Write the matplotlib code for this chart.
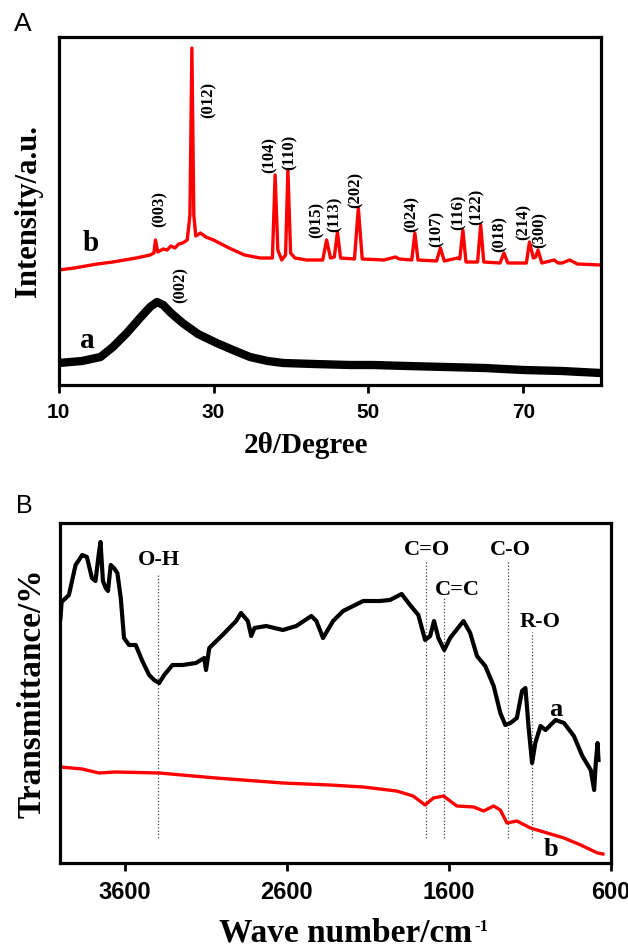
import matplotlib
matplotlib.use("Agg")
import matplotlib.pyplot as plt

# --------------------------
# Panel A: XRD data (2theta in degrees, intensity in a.u.)
# --------------------------
xrd_b_theta = [10, 12, 15, 17, 20, 21.8, 22.3, 22.5, 22.8, 23.5, 24, 24.5, 25, 25.5,
               26.0, 26.6, 26.95, 27.2, 27.45, 27.7, 28.3, 29, 30, 32, 34, 36,
               37.6, 37.95, 38.3, 38.8, 39.3, 39.6, 39.95, 40.5, 42, 44.1, 44.6,
               45.1, 45.6, 46.0, 46.4, 48.2, 48.7, 49.2, 52, 53.5, 54, 55.6, 56.0,
               56.4, 58.8, 59.3, 59.8, 61.5, 61.8, 62.2, 62.6, 64.1, 64.5, 64.9,
               67.0, 67.5, 68.0, 70.4, 70.8, 71.3, 71.6, 71.9, 72.4, 74, 74.5, 75,
               76, 77, 80]
xrd_b_int = [115, 117, 121, 123, 127, 130, 132, 145, 133, 136, 135, 139, 137, 141,
             142, 145, 170, 337, 170, 149, 152, 148, 145, 137, 130, 127,
             127, 210, 135, 125, 130, 215, 132, 127, 125, 125, 145,
             127, 128, 153, 127, 126, 177, 126, 125, 128, 126, 125, 152,
             125, 124, 137, 124, 127, 126, 155, 123, 123, 160, 123,
             122, 132, 122, 122, 143, 127, 128, 135, 122, 125, 122, 122,
             125, 121, 120]

xrd_a_theta = [10, 13, 15.4, 17, 18.8, 20.5, 21.8, 22.7, 23.5, 24.5, 26, 28, 30.4,
               32.5, 34.7, 37, 39, 43, 47.6, 50.6, 55, 60, 65, 70, 75, 80]
xrd_a_int = [22, 24, 28, 38, 52, 67, 78, 83, 80, 72, 62, 51, 42,
             35, 28, 24, 22, 21, 20, 20, 19, 18, 17, 15, 14, 12]

hkl_labels = ['(003)', '(012)', '(104)', '(110)', '(015)', '(113)', '(202)',
              '(024)', '(107)', '(116)', '(122)', '(018)', '(214)', '(300)']
hkl_theta = [23.1, 29.4, 37.3, 39.8, 43.3, 45.7, 48.3, 55.6, 58.8, 61.7, 64.0,
             66.9, 70.0, 72.1]
hkl_int = [158, 267, 212, 215, 147, 153, 177, 153, 138, 155, 160, 133, 145, 137]

# --------------------------
# Panel B: FTIR data (wave number in cm-1, transmittance in %)
# --------------------------
ftir_a_wn = [3997, 3990, 3945, 3904, 3863, 3834, 3803, 3781, 3760, 3750, 3735,
             3718, 3704, 3687, 3667, 3646, 3625, 3605, 3574, 3533, 3492, 3450,
             3419, 3388, 3357, 3306, 3244, 3161, 3110, 3099, 3079, 2997, 2913,
             2883, 2841, 2820, 2800, 2728, 2625, 2542, 2449, 2418, 2377, 2315,
             2253, 2129, 2026, 1964, 1892, 1840, 1789, 1747, 1716, 1692, 1665,
             1629, 1593, 1510, 1469, 1427, 1376, 1324, 1283, 1252, 1221, 1181,
             1149, 1128, 1108, 1087, 1067, 1035, 1004, 942, 890, 829, 777, 725,
             704, 694, 683, 677]
ftir_a_t = [245, 261, 268, 298, 308, 306, 285, 282, 310, 321, 282,
            275, 272, 298, 295, 290, 265, 225, 218, 218, 202, 188,
            183, 180, 188, 198, 198, 200, 205, 193, 215, 228, 242,
            250, 242, 227, 235, 237, 233, 237, 247, 242, 225, 242,
            252, 262, 262, 263, 269, 258, 248, 223, 227, 242, 225,
            213, 225, 242, 230, 207, 197, 177, 150, 138, 140, 145,
            172, 175, 135, 100, 120, 137, 133, 143, 140, 127, 107, 93,
            73, 100, 120, 103]

ftir_b_wn = [3997, 3863, 3760, 3656, 3388, 3037, 2625, 2336, 2129, 1923, 1821,
             1747, 1696, 1634, 1551, 1448, 1386, 1324, 1283, 1242, 1181, 1097,
             994, 890, 787, 683, 650]
ftir_b_t = [96, 94, 90, 91, 90, 85, 80, 78, 76, 72, 67,
            58, 65, 67, 57, 56, 52, 57, 53, 40, 42, 35,
            30, 25, 18, 10, 9]

band_labels = ['O-H', 'C=O', 'C=C', 'C-O', 'R-O']
band_wn = [3393, 1743, 1628, 1236, 1087]
band_top = [288, 303, 266, 303, 231]

serif = 'Liberation Serif'

fig = plt.figure(figsize=(6.28, 9.47), dpi=100)

# --------------------------
# Panel A
# --------------------------
axA = fig.add_axes([58.7 / 628, 1 - 385 / 947, 542 / 628, 348 / 947])
axA.plot(xrd_b_theta, xrd_b_int, color='#ff0000', lw=2.4)
axA.plot(xrd_a_theta, xrd_a_int, color='black', lw=6)
for lab, x, y in zip(hkl_labels, hkl_theta, hkl_int):
    axA.text(x, y, lab, rotation=90, ha='center', va='bottom',
             family=serif, weight='bold', fontsize=12)
axA.text(25.7, 82, '(002)', rotation=90, ha='center', va='bottom',
         family=serif, weight='bold', fontsize=12)
axA.text(14.1, 142, 'b', ha='center', va='center', family=serif,
         weight='bold', fontsize=21)
axA.text(13.7, 45, 'a', ha='center', va='center', family=serif,
         weight='bold', fontsize=21)
axA.set_xlim(10, 80)
axA.set_ylim(0, 348)
axA.set_xticks([10, 30, 50, 70])
axA.set_xlabel('2θ/Degree', family=serif, weight='bold', fontsize=21)
axA.xaxis.set_label_coords(0.456, -0.135)
axA.set_ylabel('Intensity/a.u.', family=serif, weight='bold', fontsize=22, labelpad=11)
fig.text(14 / 628, 1 - 12 / 947, 'A', ha='left', va='top', family='Liberation Sans',
         fontsize=19)

# --------------------------
# Panel B
# --------------------------
axB = fig.add_axes([60 / 628, 1 - 863 / 947, 551 / 628, 340 / 947])
for wn, top in zip(band_wn, band_top):
    axB.plot([wn, wn], [25, top], color='#444444', lw=0.9, ls=':')
axB.plot(ftir_b_wn, ftir_b_t, color='#ff0000', lw=2.4)
axB.plot(ftir_a_wn, ftir_a_t, color='black', lw=3)
label_pos = [(3388, 303), (1737, 313), (1551, 273), (1221, 313), (1035, 241)]
for lab, (x, y) in zip(band_labels, label_pos):
    axB.text(x, y, lab, ha='center', va='center', family=serif,
             weight='bold', fontsize=16)
axB.text(942, 153, 'a', ha='center', va='center', family=serif,
         weight='bold', fontsize=19)
axB.text(973, 13, 'b', ha='center', va='center', family=serif,
         weight='bold', fontsize=19)
axB.set_xlim(4000, 600)
axB.set_ylim(0, 340)
axB.set_xticks([3600, 2600, 1600, 600])
xlab = axB.set_xlabel('Wave number/cm', family=serif, weight='bold', fontsize=24)
axB.xaxis.set_label_coords(0.519, -0.16)
axB.annotate('-1', xy=(1, 1), xycoords=xlab, xytext=(1, -1),
             textcoords='offset points', ha='left', va='top', family=serif,
             weight='bold', fontsize=12, annotation_clip=False)
axB.set_ylabel('Transmittance/%', family=serif, weight='bold', fontsize=24,
               labelpad=9)
fig.text(16 / 628, 1 - 494 / 947, 'B', ha='left', va='top', family='Liberation Sans',
         fontsize=18)

for ax, fs in ((axA, 15), (axB, 17)):
    for s in ax.spines.values():
        s.set_linewidth(2.3)
    ax.tick_params(axis='y', left=False, labelleft=False)
    ax.tick_params(axis='x', direction='out', length=6, width=2, pad=7)
    for t in ax.get_xticklabels():
        t.set_family('Liberation Sans')
        t.set_weight('bold')
        t.set_fontsize(fs)

fig.savefig('out.png', dpi=100)
